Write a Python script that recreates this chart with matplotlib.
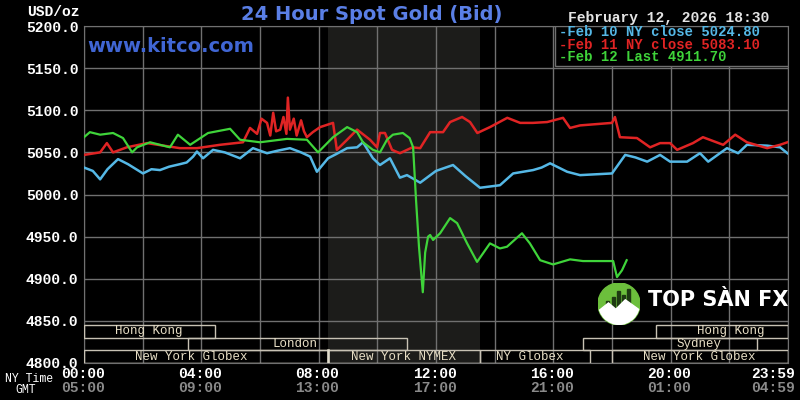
import matplotlib.pyplot as plt
from matplotlib.patches import Rectangle, Circle, Polygon
import matplotlib.transforms as mtransforms

# NY time in hours, price in USD/oz
feb10_h = [0.0, 0.3, 0.55, 0.8, 1.16, 1.5, 2.01, 2.3, 2.59, 2.9, 3.27, 3.5, 3.72, 3.85,
           4.06, 4.4, 4.8, 5.32, 5.76, 6.24, 6.6, 7.02, 7.4, 7.71, 7.94, 8.32, 8.6, 8.97,
           9.31, 9.51, 9.85, 10.09, 10.43, 10.77, 11.01, 11.46, 12.0, 12.58, 13.0, 13.5,
           14.18, 14.63, 15.31, 15.6, 15.89, 16.47, 16.91, 18.0, 18.45, 18.8, 19.2, 19.64,
           19.98, 20.56, 21.0, 21.28, 21.92, 22.3, 22.6, 23.29, 23.73, 23.98]
feb10_v = [5032, 5028, 5018, 5030, 5042, 5036, 5025, 5030, 5029, 5033, 5036, 5038, 5045, 5051,
           5043, 5053, 5050, 5043, 5055, 5049, 5052, 5055, 5050, 5045, 5027, 5043, 5048, 5055,
           5056, 5062, 5043, 5035, 5043, 5020, 5023, 5014, 5028, 5035, 5022, 5008,
           5011, 5025, 5029, 5032, 5037, 5027, 5023, 5025, 5047, 5044, 5039, 5047,
           5039, 5039, 5049, 5039, 5055, 5049, 5059, 5058, 5056, 5049]

feb11_h = [0.0, 0.55, 0.78, 0.99, 1.46, 2.15, 3.27, 3.85, 4.64, 5.42, 5.66, 5.9, 6.05, 6.24,
           6.35, 6.45, 6.55, 6.69, 6.8, 6.9, 6.95, 7.02, 7.15, 7.25, 7.4, 7.5, 7.6, 7.8, 8.05,
           8.49, 8.62, 8.97, 9.31, 9.75, 9.99, 10.09, 10.26, 10.5, 10.77, 11.2, 11.46, 11.8,
           12.24, 12.48, 12.89, 13.16, 13.41, 13.84, 14.43, 14.87, 15.3, 15.79, 16.33, 16.57,
           16.91, 18.0, 18.1, 18.27, 18.85, 19.3, 19.64, 19.98, 20.22, 20.76, 21.1, 21.79,
           22.2, 22.6, 23.29, 23.73, 23.98]
feb11_v = [5047, 5050, 5061, 5050, 5056, 5061, 5055, 5055, 5059, 5062, 5079, 5072, 5090, 5085,
           5070, 5097, 5075, 5077, 5092, 5072, 5115, 5077, 5090, 5070, 5088, 5075, 5068, 5074, 5080,
           5085, 5053, 5065, 5077, 5065, 5056, 5073, 5073, 5053, 5049, 5056, 5055, 5074,
           5074, 5086, 5092, 5086, 5073, 5080, 5091, 5085, 5085, 5086, 5091, 5079,
           5082, 5085, 5092, 5068, 5067, 5056, 5061, 5061, 5053, 5061, 5068, 5059,
           5071, 5062, 5055, 5059, 5062]

feb12_h = [0.0, 0.2, 0.55, 0.99, 1.33, 1.64, 1.81, 2.25, 2.93, 3.2, 3.62, 4.23, 4.98, 5.32,
           6.0, 6.92, 7.6, 7.98, 8.49, 8.97, 9.31, 9.51, 9.85, 10.09, 10.33, 10.53, 10.87,
           11.1, 11.22, 11.32, 11.42, 11.55, 11.63, 11.73, 11.8, 11.9, 12.14, 12.48, 12.72,
           13.06, 13.4, 13.84, 14.18, 14.42, 14.93, 15.2, 15.55, 15.99, 16.57, 17.01, 18.04,
           18.17, 18.34, 18.5]
feb12_v = [5068, 5074, 5071, 5073, 5067, 5050, 5056, 5062, 5056, 5071, 5059, 5073, 5078, 5065,
           5062, 5066, 5065, 5050, 5068, 5080, 5074, 5062, 5053, 5050, 5065, 5071, 5073,
           5067, 5056, 4993, 4938, 4884, 4931, 4950, 4952, 4946, 4954, 4972, 4966,
           4942, 4920, 4942, 4936, 4938, 4954, 4942, 4922, 4917, 4923, 4921, 4921,
           4902, 4910, 4922]

legend_labels = ["-Feb 10 NY close 5024.80", "-Feb 11 NY close 5083.10", "-Feb 12 Last 4911.70"]
line_colors = ["#55b8e6", "#e02424", "#3fd43a"]

y_ticks = [4800, 4850, 4900, 4950, 5000, 5050, 5100, 5150, 5200]
x_ticks = [0, 4, 8, 12, 16, 20, 23.98]
ny_labels = ["00:00", "04:00", "08:00", "12:00", "16:00", "20:00", "23:59"]
gmt_labels = ["05:00", "09:00", "13:00", "17:00", "21:00", "01:00", "04:59"]

# sessions: (row, start, end, label, label position)
sessions = [
    (2, 0.0, 4.47, "Hong Kong", 2.2),
    (2, 19.5, 24.0, "Hong Kong", 22.05),
    (1, 3.53, 11.0, "London", 7.2),
    (1, 17.0, 22.95, "Sydney", 20.95),
    (0, 0.0, 8.33, "New York Globex", 3.65),
    (0, 8.33, 13.5, "New York NYMEX", 10.9),
    (0, 13.5, 17.25, "NY Globex", 15.2),
    (0, 18.0, 24.0, "New York Globex", 20.97),
]

mono = "Liberation Mono"
gridc = "#707070"

fig = plt.figure(figsize=(8, 4), dpi=100, facecolor="black")
ax = fig.add_axes([84 / 800, 37 / 400, 704 / 800, 337 / 400])
ax.set_facecolor("black")
ax.set_xlim(0, 24)
ax.set_ylim(4800, 5200)

ax.axvspan(8.33, 13.5, color="#1c1c1a", zorder=0, lw=0)
for h in range(0, 25, 2):
    ax.axvline(h, color=gridc, lw=1, zorder=1)
for v in y_ticks:
    ax.axhline(v, color=gridc, lw=1, zorder=1)
for s in ax.spines.values():
    s.set_color(gridc)

ax.set_xticks([])
ax.set_yticks(y_ticks)
ax.set_yticklabels(["%.1f" % v for v in y_ticks], fontsize=10.5, color="white",
                   fontfamily=mono, fontweight="bold")
ax.tick_params(axis="y", length=0, pad=4)

# session boxes
for row, start, end, label, lx in sessions:
    y0 = 4800 + row * 15
    ax.add_patch(Rectangle((start, y0), end - start, 15, fill=False,
                           edgecolor="#c8c2b4", lw=1, zorder=3))
    ax.text(lx, y0 + 7.5, label, ha="center", va="center", color="#e8dfc6",
            fontsize=9, fontfamily=mono, zorder=3)
ax.plot([8.33, 8.33], [4800, 4815], color="#e0dccc", lw=1.8, zorder=3)

# price lines
ax.plot(feb10_h, feb10_v, color=line_colors[0], lw=1.8, zorder=4)
ax.plot(feb11_h, feb11_v, color=line_colors[1], lw=1.8, zorder=4)
ax.plot(feb12_h, feb12_v, color=line_colors[2], lw=1.6, zorder=4)

# legend box
trans = mtransforms.blended_transform_factory(ax.transData, ax.transAxes)
ax.add_patch(Rectangle((16.06, 5152.5), 24 - 16.06, 47.5, facecolor="black",
                       edgecolor=gridc, lw=1, zorder=5))
for lab, c, yy in zip(legend_labels, line_colors, [0.983, 0.945, 0.907]):
    ax.text(16.2, yy, lab, color=c, fontsize=10, fontfamily=mono,
            fontweight="bold", ha="left", va="center", transform=trans, zorder=6)

# x labels, two rows
for x, a, b in zip(x_ticks, ny_labels, gmt_labels):
    ha = "right" if x > 23 else "center"
    xx = 24.24 if x > 23 else x - 0.05
    ax.text(xx, -0.033, a, transform=trans, ha=ha, va="center", color="white",
            fontsize=10.5, fontfamily=mono, fontweight="bold", clip_on=False)
    ax.text(xx, -0.074, b, transform=trans, ha=ha, va="center", color="#8a8a8a",
            fontsize=10.5, fontfamily=mono, fontweight="bold", clip_on=False)
fig.text(5 / 800, 1 - 378.5 / 400, "NY Time", color="white", fontsize=8.3,
         fontfamily=mono, ha="left", va="center")
fig.text(15 / 800, 1 - 390 / 400, "GMT", color="white", fontsize=8.3,
         fontfamily=mono, ha="left", va="center")

# header texts
fig.text(80 / 800, 1 - 12 / 400, "USD/oz", color="white", fontsize=10.5,
         fontfamily=mono, fontweight="bold", ha="right", va="center")
fig.text(372 / 800, 1 - 15 / 400, "24 Hour Spot Gold (Bid)", color="#5a7fe6",
         fontsize=14, fontfamily="DejaVu Sans", fontweight="bold",
         ha="center", va="center")
fig.text(568 / 800, 1 - 18 / 400, "February 12, 2026 18:30", color="#e4e4e4",
         fontsize=10.5, fontfamily=mono, fontweight="bold", ha="left", va="center")
fig.text(87 / 800, 1 - 47 / 400, "www.kitco.com", color="#4066d4", fontsize=14,
         fontfamily="DejaVu Sans", fontweight="bold", ha="left", va="center")

# watermark logo
lax = fig.add_axes([598 / 800, 75 / 400, 42 / 800, 42 / 400])
lax.set_xlim(-1, 1)
lax.set_ylim(-1, 1)
lax.axis("off")
circ = Circle((0, 0), 1, color="#6cbf3c")
lax.add_patch(circ)
for bx, top in zip([-0.6, -0.35, -0.1, 0.15, 0.4], [0.15, 0.35, 0.6, 0.45, 0.7]):
    lax.add_patch(Rectangle((bx, -0.3), 0.14, top + 0.3, color="#1e3a12"))
mount = Polygon([(-1, -0.35), (-0.5, 0.05), (-0.15, -0.25), (0.3, 0.2), (1, -0.3),
                 (1, -1), (-1, -1)], closed=True, color="white")
lax.add_patch(mount)
mount.set_clip_path(circ)
fig.text(648 / 800, 1 - 300 / 400, "TOP SÀN FX", color="white", fontsize=15,
         fontfamily="DejaVu Sans", fontweight="bold", ha="left", va="center")

fig.savefig("out.png", dpi=100, facecolor="black")
